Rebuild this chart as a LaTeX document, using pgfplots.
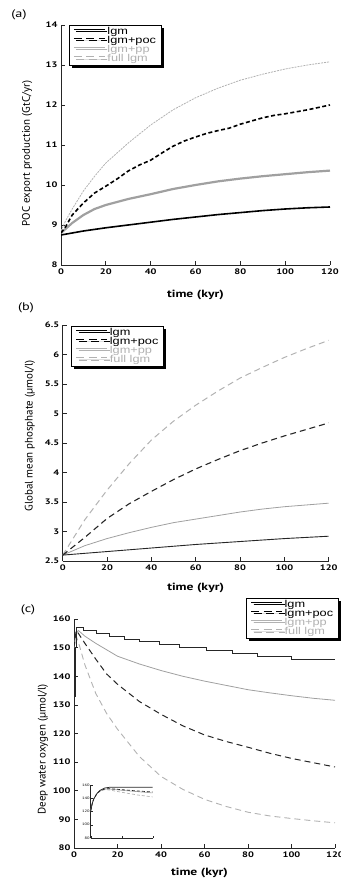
\documentclass[border=0pt]{standalone}
\usepackage{graphicx}
\usepackage{pgfplots}
\pgfplotsset{compat=1.18}
\usepackage{fontspec}
\setmainfont{PT Sans}
\newfontfamily\sfst{PT Sans}[FakeStretch=1.3]
\newfontfamily\legf{Liberation Sans}
\usetikzlibrary{shadows}
\definecolor{gr}{RGB}{160,160,160}
\definecolor{grl}{RGB}{178,178,178}
\newcommand{\lgs}[1]{\scalebox{1.28}[1]{\legf\fontsize{10}{8}\selectfont #1}}

\pgfplotsset{
 panel/.style={scale only axis, xmin=0, xmax=120, xtick={0,20,...,120},
   axis x line*=bottom, axis y line*=left,
   axis line style={-, line width=0.7bp, black!85},
   tick align=inside, major tick length=4bp, tick style={line width=0.7bp, black!85},
   /pgf/number format/assume math mode=true,
   tick label style={font=\sfst\bfseries\fontsize{8}{8}\selectfont},
   xlabel={time (kyr)},
   xlabel style={font=\sfst\bfseries\fontsize{10.5}{11}\selectfont, anchor=center},
   ylabel style={font=\fontsize{11}{12}\selectfont, anchor=center},
   legend cell align=left,
   legend style={draw=black, line width=0.8bp, fill=white,
     drop shadow={shadow xshift=2.5bp, shadow yshift=-2.5bp, fill=black, opacity=1},
     inner xsep=4bp, inner ysep=2bp, row sep=0pt, column sep=1bp, anchor=north west,
     nodes={inner ysep=0.2bp, inner xsep=1bp, text height=6.8bp, text depth=1.9bp}},
   legend image code/.code={\draw[#1] (0bp,2.7bp) -- (31bp,2.7bp);},
 },
 lA/.style={black, line width=1bp},
 lB/.style={black, line width=1bp, dash pattern=on 8bp off 4.5bp},
 lC/.style={grl, line width=0.9bp},
 lD/.style={grl, line width=0.8bp, dash pattern=on 8bp off 4.5bp},
}

\begin{document}
\begin{tikzpicture}
\useasboundingbox (0,0) rectangle (341bp,879bp);

\node[font=\sfst\fontsize{11}{11}\selectfont] at (19bp,864bp) {(a)};
\node[font=\sfst\fontsize{11}{11}\selectfont] at (26bp,571bp) {(b)};
\node[font=\sfst\fontsize{11}{11}\selectfont] at (28bp,269bp) {(c)};

% ---------------- (a)
\begin{axis}[panel, at={(61bp,614bp)}, width=269bp, height=240bp,
  ymin=8, ymax=14, ytick={8,...,14},
  ylabel={POC export production (GtC/yr)},
  ylabel style={at={(axis description cs:-0.126,0.465)}},
  xlabel style={at={(axis description cs:0.5,0)}, yshift=-30bp},
  legend style={at={(axis description cs:0.03,1.0)}}]
\addlegendimage{lA}\addlegendentry{\lgs{lgm}}
\addlegendimage{lB}\addlegendentry{\lgs{lgm+poc}}
\addlegendimage{lC}\addlegendentry{\textcolor{grl}{\lgs{lgm+pp}}}
\addlegendimage{lD}\addlegendentry{\textcolor{grl}{\lgs{full lgm}}}
\addplot[forget plot, grl, line width=0.8bp, dash pattern=on 2bp off 1bp] coordinates {
(0,8.85)(2,9.1)(5,9.4)(10,9.85)(15,10.22)(20,10.55)(30,11.05)(40,11.5)(50,11.88)(60,12.18)
(70,12.42)(80,12.62)(90,12.77)(100,12.9)(110,13.0)(120,13.08)};
\addplot[forget plot, gr, line width=2.2bp] coordinates {
(0,8.8)(2,8.9)(5,9.05)(10,9.25)(15,9.4)(20,9.5)(30,9.65)(40,9.77)(50,9.9)(60,10.0)
(70,10.09)(80,10.16)(90,10.22)(100,10.27)(110,10.32)(120,10.36)};
\addplot[forget plot, black, line width=1.6bp, dash pattern=on 4bp off 2.5bp] coordinates {
(0,8.8)(2,8.95)(5,9.25)(10,9.55)(15,9.8)(20,9.97)(25,10.15)(30,10.35)(35,10.5)(40,10.62)
(45,10.8)(50,10.97)(55,11.1)(60,11.2)(65,11.29)(70,11.36)(75,11.42)(80,11.52)(85,11.6)
(90,11.68)(95,11.74)(100,11.78)(105,11.83)(110,11.88)(115,11.94)(120,12.0)};
\addplot[forget plot, black, line width=1.6bp] coordinates {
(0,8.75)(5,8.8)(10,8.85)(20,8.93)(30,9.0)(40,9.07)(50,9.14)(60,9.2)(70,9.26)(80,9.31)
(90,9.36)(100,9.4)(110,9.43)(120,9.45)};
\end{axis}

% ---------------- (b)
\begin{axis}[panel, at={(62.7bp,318bp)}, width=266bp, height=236bp,
  ymin=2.5, ymax=6.5, ytick={2.5,3,...,6.5},
  ylabel={Global mean phosphate (µmol/l)},
  ylabel style={at={(axis description cs:-0.123,0.53)}},
  xlabel style={at={(axis description cs:0.5,0)}, yshift=-27bp},
  legend style={at={(axis description cs:0.033,0.996)}}]
\addlegendimage{lA}\addlegendentry{\lgs{lgm}}
\addlegendimage{lB}\addlegendentry{\lgs{lgm+poc}}
\addlegendimage{lC}\addlegendentry{\textcolor{grl}{\lgs{lgm+pp}}}
\addlegendimage{lD}\addlegendentry{\textcolor{grl}{\lgs{full lgm}}}
\addplot[forget plot, grl, line width=1bp, dash pattern=on 6bp off 4bp] coordinates {
(0,2.6)(5,2.9)(10,3.2)(20,3.7)(30,4.15)(40,4.55)(50,4.87)(60,5.14)(70,5.38)(80,5.6)
(90,5.78)(100,5.95)(110,6.1)(120,6.24)};
\addplot[forget plot, gr, line width=0.8bp] coordinates {
(0,2.6)(5,2.68)(10,2.76)(20,2.88)(30,2.98)(40,3.07)(50,3.15)(60,3.21)(70,3.27)(80,3.33)
(90,3.38)(100,3.42)(110,3.45)(120,3.48)};
\addplot[forget plot, black!85, line width=1.1bp, dash pattern=on 6bp off 4bp] coordinates {
(0,2.6)(5,2.75)(10,2.9)(20,3.22)(30,3.47)(40,3.68)(50,3.88)(60,4.06)(70,4.22)(80,4.37)
(90,4.5)(100,4.62)(110,4.73)(120,4.84)};
\addplot[forget plot, black!85, line width=0.9bp] coordinates {
(0,2.6)(20,2.66)(40,2.72)(60,2.78)(80,2.83)(100,2.88)(120,2.92)};
\end{axis}

% ---------------- (c)
\begin{axis}[panel, at={(74bp,31bp)}, width=261bp, height=229bp,
  ymin=80, ymax=160, ytick={80,90,...,160},
  ylabel={Deep water oxygen (µmol/l)},
  ylabel style={at={(axis description cs:-0.119,0.43)}},
  xlabel style={at={(axis description cs:0.5,0)}, yshift=-25bp, xshift=-5bp},
  legend style={at={(axis description cs:0.66,1.092)}}]
\addlegendimage{lA}\addlegendentry{\lgs{lgm}}
\addlegendimage{lB}\addlegendentry{\lgs{lgm+poc}}
\addlegendimage{lC}\addlegendentry{\textcolor{grl}{\lgs{lgm+pp}}}
\addlegendimage{lD}\addlegendentry{\textcolor{grl}{\lgs{full lgm}}}
\addplot[forget plot, grl, line width=0.9bp, dash pattern=on 6bp off 4bp] coordinates {
(0,150)(1,154)(2,152)(5,144)(10,134)(15,127)(20,121.5)(30,112)(40,105)(50,100.5)(60,97)
(70,94.5)(80,92.5)(90,91.2)(100,90.3)(110,89.5)(120,88.8)};
\addplot[forget plot, gr, line width=0.8bp] coordinates {
(0,150)(1,155)(2,156)(5,154)(10,151.5)(20,147)(30,144.3)(40,142)(50,140)(60,138.3)
(70,136.8)(80,135.3)(90,134.2)(100,133.2)(110,132.3)(120,131.6)};
\addplot[forget plot, black!85, line width=1bp, dash pattern=on 6bp off 4bp] coordinates {
(0,150)(1,156)(2,155)(5,151.5)(10,146)(15,140.8)(20,137.2)(30,131.2)(40,126.7)(50,122.7)
(60,119.5)(70,117.2)(80,115.2)(90,113.1)(100,111.3)(110,109.8)(120,108.3)};
\addplot[forget plot, black!85, line width=0.9bp, const plot] coordinates {
(0,133)(0.5,150)(1,157)(4.3,156)(10.4,155)(16.2,154)(23.4,153)(30,152)(39.5,151)(48.7,150)
(61,149)(73,148)(84.4,147)(99.8,146)(120,146)};
\end{axis}

% ---------------- inset
\begin{axis}[scale only axis, at={(90.7bp,41bp)}, width=62bp, height=53bp,
  xmin=0, xmax=2, ymin=80, ymax=160, ytick={80,100,...,160}, xtick={0,1,2},
  axis x line*=bottom, axis y line*=left,
  axis line style={-, line width=0.5bp, black!85},
  tick align=inside, major tick length=2bp, tick style={line width=0.4bp, black!85},
  /pgf/number format/assume math mode=true,
  xticklabels={,,},
  tick label style={font=\sfst\fontsize{3.5}{4}\selectfont, inner sep=1bp}]
\addplot[grl, line width=0.7bp, dash pattern=on 3bp off 2bp] coordinates {
(0,121)(0.05,132)(0.1,139)(0.2,147)(0.3,151)(0.45,153)(0.6,152.5)(1,149)(1.5,145)(2,142)};
\addplot[gr, line width=0.6bp] coordinates {
(0,121)(0.05,132)(0.1,139)(0.2,147)(0.3,151)(0.45,154)(0.6,154)(1,152)(1.5,150)(2,148)};
\addplot[black!85, line width=0.7bp, dash pattern=on 3bp off 2bp] coordinates {
(0,121)(0.05,132)(0.1,139)(0.2,147)(0.3,151)(0.45,154)(0.6,154.5)(1,153)(1.5,151)(2,149.5)};
\addplot[black!85, line width=0.7bp] coordinates {
(0,121)(0.05,132)(0.1,139)(0.2,147)(0.3,152)(0.45,155.5)(0.6,156.5)(2,156.5)};
\end{axis}
\end{tikzpicture}
\end{document}
